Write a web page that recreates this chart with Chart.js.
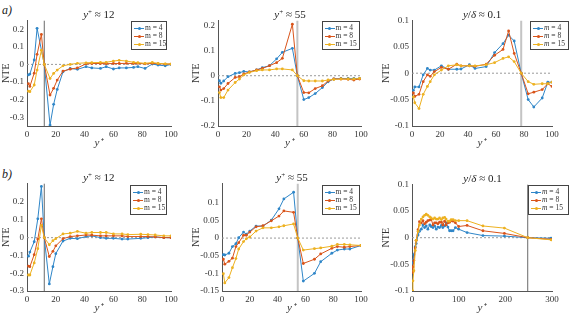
<!DOCTYPE html>
<html>
<head>
<meta charset="utf-8">
<script src="https://cdn.jsdelivr.net/npm/chart.js@4.4.1/dist/chart.umd.min.js"></script>
<style>
  body { margin: 0; width: 571px; height: 322px; background: #fff; position: relative; overflow: hidden; font-family: "Liberation Serif", serif; color: #222; }
  canvas { position: absolute; }
  .plbl { position: absolute; font-style: italic; font-size: 12px; line-height: 12px; }
  .ttl { position: absolute; font-size: 11px; line-height: 11px; transform: translateX(-50%); white-space: nowrap; }
  .ttl sup { font-size: 7px; vertical-align: 4px; line-height: 0; }
  .leg { position: absolute; border: 1px solid #444; background: #fff; box-sizing: border-box; }
  .row { position: absolute; left: 0; height: 8px; font-size: 7.5px; line-height: 8px; white-space: nowrap; color: #333; }
  .smp { position: absolute; left: 2px; top: 3.5px; width: 10px; height: 1px; }
  .dot { position: absolute; left: 3.5px; top: -1px; width: 3px; height: 3px; border-radius: 50%; }
  .txt { position: absolute; left: 13px; top: 0; }
</style>
</head>
<body>
<div class="plbl" style="left:2px;top:4px">a)</div>
<div class="plbl" style="left:2px;top:168px">b)</div>
<script>
// legend entries and colours
const mValues = [4, 8, 15];
const lineColors = ["#2f86c8", "#d9541a", "#edb120"];

// a) y+ ~ 12
const a1X = [1, 2, 5, 7, 10, 12, 16, 18.5, 21, 25, 30, 35, 41, 45, 51, 55, 60, 64, 69, 74, 77, 82, 87, 91, 96, 100];
const a1M4 = [-0.06, -0.055, 0.025, 0.205, null, 0, -0.345, -0.227, -0.142, -0.042, -0.023, -0.028, -0.013, -0.02, -0.023, -0.013, -0.026, -0.02, -0.02, -0.017, -0.013, -0.023, 0.002, -0.004, -0.008, 0];
const a1M8 = [-0.11, -0.125, -0.05, 0.057, 0.17, 0, -0.174, -0.136, -0.089, -0.038, -0.027, -0.02, 0.003, 0.005, 0.005, 0.004, 0.005, 0.005, 0.006, 0.005, 0.006, 0.003, 0.006, 0.004, 0.002, 0.002];
const a1M15 = [-0.152, -0.155, -0.117, -0.032, 0.081, 0, -0.08, -0.051, -0.032, -0.008, 0.0, 0.006, 0.009, 0.01, 0.011, 0.012, 0.019, 0.023, 0.019, 0.012, 0.01, 0.006, 0.011, 0.006, 0.003, 0.002];

// a) y+ ~ 55
const a2X = [1, 2, 4, 7, 12, 15, 18, 22, 27, 31, 36, 41, 45, 52, 55.5, 60, 63.5, 68, 73, 77, 81, 86, 91, 95, 99];
const a2M4 = [-0.02, -0.03, -0.021, -0.004, 0.009, 0.012, 0.017, 0.015, 0.023, 0.032, 0.04, 0.067, 0.093, 0.109, 0, -0.095, -0.087, -0.071, -0.047, -0.024, -0.013, -0.011, -0.011, -0.011, -0.011];
const a2M8 = [-0.044, -0.057, -0.051, -0.031, -0.007, -0.004, 0.007, 0.015, 0.023, 0.029, 0.04, 0.052, 0.069, 0.205, 0, -0.067, -0.068, -0.051, -0.04, -0.021, -0.013, -0.013, -0.014, -0.017, -0.013];
const a2M15 = [-0.067, -0.087, -0.087, -0.057, -0.027, -0.013, 0.003, 0.013, 0.02, 0.023, 0.023, 0.027, 0.027, 0.023, 0, -0.02, -0.021, -0.021, -0.021, -0.017, -0.015, -0.013, -0.013, -0.013, -0.011];

// a) y/delta ~ 0.1
const a3X = [1, 2, 5, 8, 11, 13, 16, 21, 26, 32, 35, 41, 45, 53, 59, 65, 69, 73, 78, 83, 87, 93, 97, 100];
const a3M4 = [-0.0325, -0.026, -0.026, -0.003, 0.009, 0.006, 0.006, 0.014, 0.0075, 0.0075, 0.008, 0.016, 0.009, 0.0125, 0.039, 0.056, 0.072, 0.061, 0, -0.05, -0.064, -0.047, -0.017, -0.017];
const a3M8 = [-0.0375, -0.044, -0.04, -0.016, -0.003, -0.006, 0.003, 0.011, 0.0075, 0.017, 0.014, 0.014, 0.013, 0.017, 0.034, 0.045, 0.08, 0.0375, 0, -0.039, -0.036, -0.031, -0.02, -0.025];
const a3M15 = [-0.045, -0.056, -0.067, -0.04, -0.025, -0.016, -0.003, 0.006, 0.014, 0.016, 0.014, 0.014, 0.014, 0.016, 0.02, 0.028, 0.031, 0.022, 0, -0.016, -0.021, -0.02, -0.02, -0.017];

// b) y+ ~ 12
const b1X = [1, 2, 5, 7.5, 10, 12, 15.5, 18, 20, 25, 30, 35, 41, 45, 51, 55, 60, 66, 70, 79, 84, 89, 95, 100];
const b1M4 = [-0.104, -0.081, -0.023, 0.106, 0.288, 0, -0.26, -0.163, -0.09, -0.019, -0.004, -0.006, 0.006, 0.01, 0, -0.004, -0.004, -0.008, -0.008, -0.004, 0, 0.004, 0, 0];
const b1M8 = [-0.16, -0.163, -0.096, -0.008, 0.106, 0, -0.106, -0.077, -0.046, -0.006, 0.006, 0.01, 0.015, 0.014, 0.01, 0.01, 0.01, 0.01, 0.006, 0.006, 0.006, 0.004, 0, 0];
const b1M15 = [-0.21, -0.21, -0.142, -0.062, 0.069, 0, -0.04, -0.017, -0.006, 0.021, 0.025, 0.035, 0.025, 0.029, 0.029, 0.029, 0.021, 0.021, 0.017, 0.019, 0.017, 0.015, 0.01, 0.01];

// b) y+ ~ 55
const b2X = [1, 2, 5, 7.5, 10, 12, 15.5, 17.5, 20, 24.5, 29.5, 35.5, 41, 44.5, 51.5, 54.5, 58.5, 66.5, 71, 79, 83, 88, 92, 100];
const b2M4 = [-0.047, -0.048, -0.043, -0.024, -0.016, 0.001, 0.017, 0.011, 0.02, 0.034, 0.034, 0.051, 0.083, 0.111, 0.13, 0, -0.122, -0.1, -0.067, -0.043, -0.034, -0.031, -0.031, -0.021];
const b2M8 = [-0.06, -0.074, -0.066, -0.057, -0.024, -0.013, 0.008, 0.008, 0.017, 0.032, 0.035, 0.049, 0.0625, 0.077, 0.073, 0, -0.072, -0.06, -0.045, -0.029, -0.024, -0.026, -0.024, -0.021];
const b2M15 = [-0.101, -0.127, -0.112, -0.084, -0.058, -0.031, -0.01, -0.002, 0.003, 0.02, 0.029, 0.029, 0.032, 0.035, 0.04, 0, -0.034, -0.03, -0.028, -0.023, -0.018, -0.018, -0.019, -0.021];

// b) y/delta ~ 0.1
const b3X = [1.5, 2, 4, 7, 9, 13, 16, 20, 23.5, 27, 30.5, 34, 38, 41, 45, 48.5, 52, 55.5, 59, 63, 66, 70, 73, 77, 80.5, 84, 88, 93, 100, 118, 152, 198, 248, 298];
const b3M4 = [-0.048, -0.042, -0.032, -0.017, -0.011, 0.005, 0.012, 0.016, 0.024, 0.019, 0.022, 0.016, 0.024, 0.021, 0.019, 0.022, 0.016, 0.02, 0.019, 0.023, 0.019, 0.022, 0.028, 0.02, 0.013, 0.013, 0.013, 0.019, 0.016, 0.0096, 0.004, 0.003, 0, -0.001];
const b3M8 = [-0.065, -0.055, -0.043, -0.019, -0.005, 0.015, 0.03, 0.028, 0.032, 0.026, 0.029, 0.032, 0.033, 0.035, 0.024, 0.028, 0.028, 0.026, 0.029, 0.029, 0.024, 0.031, 0.024, 0.028, 0.029, 0.032, 0.031, 0.028, 0.021, 0.023, 0.013, 0.008, 0, -0.003];
const b3M15 = [-0.1, -0.081, -0.062, -0.024, -0.005, 0.012, 0.024, 0.035, 0.039, 0.042, 0.044, 0.042, 0.039, 0.037, 0.035, 0.037, 0.035, 0.035, 0.037, 0.034, 0.037, 0.038, 0.035, 0.031, 0.031, 0.034, 0.034, 0.032, 0.032, 0.032, 0.022, 0.018, 0, -0.004];

// ticks
const xTicks100 = [0, 20, 40, 60, 80, 100];
const xTicks300 = [0, 100, 200, 300];
const yTicksA1 = [-0.3, -0.2, -0.1, 0, 0.1, 0.2];
const yTicksA2 = [-0.2, -0.1, 0, 0.1, 0.2];
const yTicksD = [-0.1, -0.05, 0, 0.05, 0.1];
const yTicksB2 = [-0.15, -0.1, -0.05, 0, 0.05, 0.1];

// panel layout: plot area in page pixels
const panels = [
  { l: 26.7, t: 20, r: 171, b: 126, yw: 27, title: "y12", x: a1X, ys: [a1M4, a1M8, a1M15], xr: [0, 100], yr: [-0.35, 0.25], xt: xTicks100, yt: yTicksA1, vx: 12, vthin: true, leg: [131, 21, 36, 29], im: false },
  { l: 218.3, t: 20, r: 361.7, b: 126, yw: 28, title: "y55", x: a2X, ys: [a2M4, a2M8, a2M15], xr: [0, 100], yr: [-0.2, 0.22], xt: xTicks100, yt: yTicksA2, vx: 55.5, vthin: false, leg: [321.5, 21, 38.5, 29], im: false },
  { l: 412.3, t: 20, r: 552, b: 126, yw: 32, title: "d", x: a3X, ys: [a3M4, a3M8, a3M15], xr: [0, 100], yr: [-0.1, 0.1], xt: xTicks100, yt: yTicksD, vx: 78, vthin: false, leg: [530, 21, 38.5, 29], im: true },
  { l: 26.7, t: 183, r: 171, b: 291, yw: 27, title: "y12", x: b1X, ys: [b1M4, b1M8, b1M15], xr: [0, 100], yr: [-0.3, 0.305], xt: xTicks100, yt: yTicksA1, vx: 12, vthin: true, leg: [130, 185, 37, 30], im: false },
  { l: 222.3, t: 183, r: 361.7, b: 291, yw: 32, title: "y55", x: b2X, ys: [b2M4, b2M8, b2M15], xr: [0, 100], yr: [-0.15, 0.155], xt: xTicks100, yt: yTicksB2, vx: 54.5, vthin: false, leg: [321.5, 185, 38.5, 30], im: false },
  { l: 412.3, t: 184, r: 552.7, b: 291, yw: 32, title: "d", x: b3X, ys: [b3M4, b3M8, b3M15], xr: [0, 300], yr: [-0.1, 0.1], xt: xTicks300, yt: yTicksD, vx: 248, vthin: true, leg: [528, 185, 40.5, 30], im: true },
];

const titles = {
  y12: "<i>y</i><sup>+</sup> ≈ 12",
  y55: "<i>y</i><sup>+</sup> ≈ 55",
  d: "<i>y</i>/<i>δ</i> ≈ 0.1",
};

const padTop = 8;
const padRight = 10;
const xAxisH = 24;

function fmt(v) {
  return String(parseFloat(v.toFixed(3)));
}

panels.forEach(function (p) {
  // canvas
  const cv = document.createElement("canvas");
  const w = Math.round(p.r - p.l + p.yw + padRight);
  const h = Math.round(p.b - p.t + padTop + xAxisH);
  cv.width = w;
  cv.height = h;
  cv.style.left = p.l - p.yw + "px";
  cv.style.top = p.t - padTop + "px";
  cv.style.width = w + "px";
  cv.style.height = h + "px";
  document.body.appendChild(cv);

  const datasets = p.ys.map(function (ys, i) {
    return {
      label: "m = " + mValues[i],
      data: p.x.map((x, j) => ({ x: x, y: ys[j] })),
      borderColor: lineColors[i],
      backgroundColor: lineColors[i],
      borderWidth: 1,
      pointRadius: 1.4,
      pointBorderWidth: 0,
      spanGaps: true,
      order: 2 - i,
    };
  });
  datasets.push({
    data: [{ x: p.xr[0], y: 0 }, { x: p.xr[1], y: 0 }],
    borderColor: "#9a9a9a",
    borderWidth: 1,
    borderDash: [2, 2],
    pointRadius: 0,
    order: 10,
  });
  datasets.push({
    data: [{ x: p.vx, y: p.yr[0] }, { x: p.vx, y: p.yr[1] }],
    borderColor: p.vthin ? "#6a6a6a" : "#c4c4c4",
    borderWidth: p.vthin ? 1 : 2,
    pointRadius: 0,
    order: 11,
  });

  new Chart(cv, {
    type: "line",
    data: { datasets: datasets },
    options: {
      responsive: false,
      animation: false,
      layout: { padding: { left: 0, top: padTop, right: padRight, bottom: 0 } },
      plugins: { legend: { display: false }, tooltip: { enabled: false } },
      scales: {
        x: {
          type: "linear",
          min: p.xr[0],
          max: p.xr[1],
          afterBuildTicks: (s) => { s.ticks = p.xt.map((v) => ({ value: v })); },
          afterFit: (s) => { s.height = xAxisH; },
          grid: { display: false, drawTicks: false },
          border: { color: "#555", width: 1 },
          ticks: { padding: 3, color: "#333", font: { family: "Liberation Serif", size: 9 }, maxRotation: 0, callback: (v) => fmt(v) },
          title: { display: true, text: "y⁺", padding: 0, color: "#333", font: { family: "Liberation Serif", size: 11, style: "italic" } },
        },
        y: {
          type: "linear",
          min: p.yr[0],
          max: p.yr[1],
          afterBuildTicks: (s) => { s.ticks = p.yt.map((v) => ({ value: v })); },
          afterFit: (s) => { s.width = p.yw; },
          grid: { display: false, drawTicks: false },
          border: { color: "#555", width: 1 },
          ticks: { padding: 3, color: "#333", font: { family: "Liberation Serif", size: 9 }, callback: (v) => fmt(v) },
          title: { display: true, text: "NTE", padding: 0, color: "#333", font: { family: "Liberation Serif", size: 10 } },
        },
      },
    },
  });

  // title
  const t = document.createElement("div");
  t.className = "ttl";
  t.innerHTML = titles[p.title];
  t.style.left = (p.l + p.r) / 2 + "px";
  t.style.top = p.t - 11 + "px";
  document.body.appendChild(t);

  // legend
  const lg = document.createElement("div");
  lg.className = "leg";
  lg.style.left = p.leg[0] + "px";
  lg.style.top = p.leg[1] + "px";
  lg.style.width = p.leg[2] + "px";
  lg.style.height = p.leg[3] + "px";
  mValues.forEach(function (m, i) {
    const row = document.createElement("div");
    row.className = "row";
    row.style.top = 2 + i * 8 + "px";
    const mm = p.im ? "<i>m</i>" : "m";
    row.innerHTML =
      '<div class="smp" style="background:' + lineColors[i] + '"><div class="dot" style="background:' + lineColors[i] + '"></div></div>' +
      '<div class="txt">' + mm + " = " + m + "</div>";
    lg.appendChild(row);
  });
  document.body.appendChild(lg);
});
</script>
</body>
</html>
